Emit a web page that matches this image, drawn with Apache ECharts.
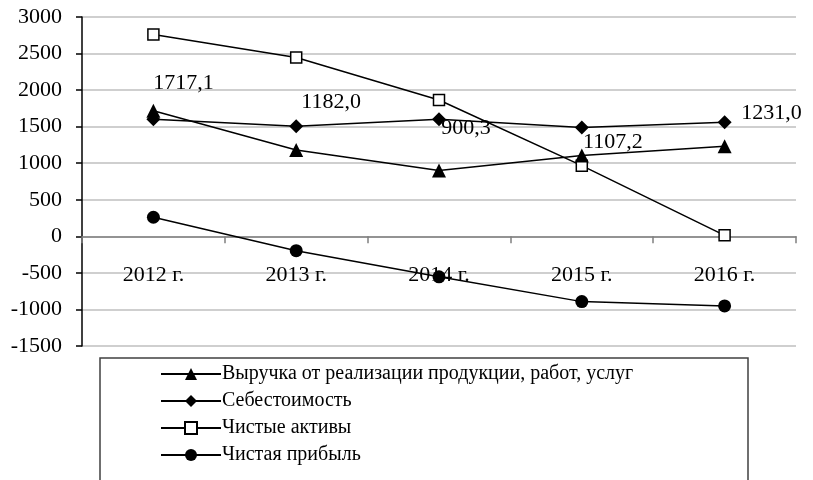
<!DOCTYPE html>
<html><head><meta charset="utf-8">
<script src="https://cdn.jsdelivr.net/npm/echarts@6/dist/echarts.min.js"></script>
<style>html,body{margin:0;padding:0;background:#fff}#c{width:813px;height:480px}</style>
</head><body><div id="c"></div>
<script>
const categories = ['2012 г.', '2013 г.', '2014 г.', '2015 г.', '2016 г.'];
const revenue = [1717.1, 1182.0, 900.3, 1107.2, 1231.0];
const cost = [1600, 1507, 1603, 1489, 1562];
const netAssets = [2760, 2445, 1864, 967, 14];
const netProfit = [261, -196, -554, -893, -952];
const seriesNames = ['Выручка от реализации продукции, работ, услуг', 'Себестоимость', 'Чистые активы', 'Чистая прибыль'];

const FONT = 'Liberation Serif';
const revLabelOffsets = [[30, -28], [35, -48], [27, -42], [31, -13], [47, -33]];

const chart = echarts.init(document.getElementById('c'), null, {renderer: 'canvas'});
function lineSeries(name, data, symbol, size, fill) {
  return {
    name, type: 'line', data, symbol, symbolSize: size,
    showAllSymbol: true,
    lineStyle: {color: '#000', width: 1.5},
    itemStyle: {color: fill, borderColor: '#000', borderWidth: fill === '#fff' ? 1.5 : 0},
    emphasis: {disabled: true},
    animation: false
  };
}
const sRev = lineSeries(seriesNames[0], revenue.map((v, i) => ({
  value: v,
  label: {show: true, position: 'inside', offset: revLabelOffsets[i]}
})), 'triangle', 14, '#000');
sRev.label = {
  show: true, color: '#000', fontFamily: FONT, fontSize: 22,
  formatter: p => p.value.toFixed(1).replace('.', ',')
};
sRev.z = 5;
const sCost = lineSeries(seriesNames[1], cost, 'diamond', 14, '#000');
const sAssets = lineSeries(seriesNames[2], netAssets, 'rect', 11, '#fff');
const sProfit = lineSeries(seriesNames[3], netProfit, 'circle', 13, '#000');

chart.setOption({
  animation: false,
  backgroundColor: '#fff',
  grid: {left: 82, right: 17, top: 17, bottom: 134, containLabel: false},
  xAxis: {
    type: 'category', data: categories, boundaryGap: true,
    axisLine: {onZero: true, lineStyle: {color: '#808080', width: 1.5}},
    axisTick: {show: true, length: 7, lineStyle: {color: '#808080', width: 1.5}},
    axisLabel: {color: '#000', fontFamily: FONT, fontSize: 22, margin: -82}
  },
  yAxis: {
    type: 'value', min: -1500, max: 3000, interval: 500,
    axisLine: {show: true, lineStyle: {color: '#000', width: 1.5}},
    axisTick: {show: true, length: 6, lineStyle: {color: '#000', width: 1.5}},
    axisLabel: {color: '#000', fontFamily: FONT, fontSize: 22, margin: 20, formatter: v => String(v)},
    splitLine: {show: true, lineStyle: {color: '#BFBFBF', width: 1.5}}
  },
  legend: {
    orient: 'vertical', left: 155, top: 359,
    itemWidth: 60, itemHeight: 15, itemGap: 7,
    textStyle: {color: '#000', fontFamily: FONT, fontSize: 20, padding: [0, 0, 0, -4]},
    data: seriesNames
  },
  graphic: [{
    type: 'rect', silent: true, z: -1,
    shape: {x: 100, y: 358, width: 648, height: 140},
    style: {fill: 'none', stroke: '#404040', lineWidth: 1.5}
  }],
  series: [sRev, sCost, sAssets, sProfit]
});
</script></body></html>
